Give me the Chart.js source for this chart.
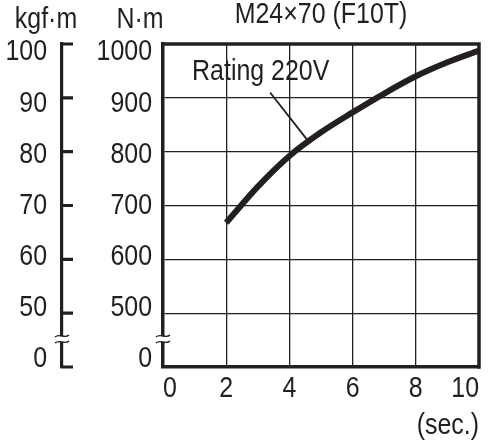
<!DOCTYPE html>
<html><head><meta charset="utf-8">
<script src="https://cdn.jsdelivr.net/npm/chart.js@4.4.1/dist/chart.umd.min.js"></script>
<style>html,body{margin:0;padding:0;background:#fff}#wrap{width:497px;height:447px;position:relative}</style>
</head><body><div id="wrap"><canvas id="c"></canvas></div>
<script>
// ---- data ----
const titleText = 'M24×70 (F10T)';
const seriesName = 'Rating 220V';
const unitNm = 'N·m';
const unitKgf = 'kgf·m';
const unitX = '(sec.)';
const timeSec = [2, 3, 4, 5, 6, 7, 8, 9, 10];
const torqueNm = [668, 735, 792, 836, 873, 908, 940, 966, 988];
const xTicks = [0, 2, 4, 6, 8, 10];
const nmTicks = [400, 500, 600, 700, 800, 900, 1000];      // 400 sits at the axis break, labelled 0
const nmTickLabels = ['0', '500', '600', '700', '800', '900', '1000'];
const kgfTicks = [40, 50, 60, 70, 80, 90, 100];             // 40 sits at the axis break, labelled 0
const kgfTickLabels = ['0', '50', '60', '70', '80', '90', '100'];
const leaderX = [3.39, 4.59];
const leaderY = [910, 820];
const labelAt = [0.92, 933];
const breakNm = 452;

// ---- style ----
const INK = '#231f20';
const FF = "'Liberation Sans', Arial, sans-serif";
const FS = 29;
const FONT = {family: FF, size: FS};
const CONDENSE = 0.86;   // condensed-type look (horizontal text scale)

const setTicks = arr => s => { s.ticks = arr.map(v => ({value: v})); };

const condensed = {
  id: 'condensed',
  beforeInit(chart) {
    const ctx = chart.ctx;
    const orig = ctx.fillText.bind(ctx);
    ctx.fillText = function (text, x, y, maxWidth) {
      this.save();
      this.translate(x, y);
      this.scale(CONDENSE, 1);
      orig(text, 0, 0);
      this.restore();
    };
  }
};

const decor = {
  id: 'decor',
  afterDatasetsDraw(chart) {
    const {ctx, chartArea: a} = chart;
    ctx.save();
    ctx.strokeStyle = INK;
    ctx.lineWidth = 3.5;
    ctx.lineCap = 'butt';
    ctx.beginPath();
    ctx.moveTo(a.left - 1.75, a.top);
    ctx.lineTo(a.right + 1.75, a.top);
    ctx.moveTo(a.right, a.top);
    ctx.lineTo(a.right, a.bottom + 1.75);
    ctx.stroke();
    ctx.restore();
  },
  afterDraw(chart) {
    const {ctx, chartArea: a, scales} = chart;
    const y = scales.y, x = scales.x, k = scales.k;
    const kx = k.right;
    ctx.save();
    // kgf axis inward ticks
    ctx.strokeStyle = INK;
    ctx.lineWidth = 3.2;
    ctx.beginPath();
    kgfTicks.forEach(t => {
      const py = y.getPixelForValue(t * 10);
      ctx.moveTo(kx - 1.5, py);
      ctx.lineTo(kx + 11, py);
    });
    ctx.stroke();
    // axis breaks
    const py = y.getPixelForValue(breakNm);
    [kx, a.left].forEach(ax => {
      ctx.fillStyle = '#fff';
      ctx.fillRect(ax - 4, py - 3, 8, 6);
      ctx.strokeStyle = INK;
      ctx.lineWidth = 1.3;
      [-3, 3].forEach(d => {
        const yy = py + d;
        ctx.beginPath();
        ctx.moveTo(ax - 7, yy + 1);
        ctx.bezierCurveTo(ax - 3, yy - 3, ax + 3, yy + 3, ax + 7, yy - 1);
        ctx.stroke();
      });
    });
    // texts
    ctx.fillStyle = INK;
    ctx.font = `${FS}px ${FF}`;
    ctx.textBaseline = 'alphabetic';
    ctx.textAlign = 'center';
    ctx.fillText(unitKgf, kx - 16, a.top - 16);
    ctx.fillText(unitNm, a.left - 23, a.top - 16);
    ctx.fillText(titleText, (a.left + a.right) / 2, a.top - 21);
    ctx.textAlign = 'left';
    ctx.fillText(seriesName, x.getPixelForValue(labelAt[0]), y.getPixelForValue(labelAt[1]));
    ctx.restore();
  }
};

new Chart(document.getElementById('c'), {
  type: 'line',
  data: {
    datasets: [
      {
        label: seriesName,
        data: timeSec.map((t, i) => ({x: t, y: torqueNm[i]})),
        borderColor: INK,
        borderWidth: 6,
        pointRadius: 0,
        cubicInterpolationMode: 'monotone',
        borderCapStyle: 'butt',
        xAxisID: 'x', yAxisID: 'y'
      },
      {
        label: 'leader',
        data: leaderX.map((t, i) => ({x: t, y: leaderY[i]})),
        borderColor: INK,
        borderWidth: 1.8,
        pointRadius: 0,
        tension: 0,
        xAxisID: 'x', yAxisID: 'y'
      }
    ]
  },
  options: {
    responsive: true,
    maintainAspectRatio: false,
    animation: false,
    layout: {padding: {top: 44, right: 18, left: 0, bottom: 0}},
    plugins: {legend: {display: false}, tooltip: {enabled: false}, title: {display: false}},
    scales: {
      x: {
        type: 'linear', min: 0, max: 10,
        afterBuildTicks: setTicks(xTicks),
        ticks: {align: 'inner', padding: 5, font: FONT, color: INK, maxRotation: 0, autoSkip: false},
        grid: {color: INK, lineWidth: 1.3, drawTicks: false},
        border: {color: INK, width: 3.5},
        title: {display: true, text: unitX, align: 'end', font: FONT, color: INK, padding: {top: 0, bottom: 4}},
        afterFit: s => { s.height = 80; }
      },
      y: {
        type: 'linear', position: 'left', weight: 0, min: 400, max: 1000,
        afterBuildTicks: setTicks(nmTicks),
        ticks: {display: false},
        grid: {color: INK, lineWidth: 1.3, drawTicks: false},
        border: {color: INK, width: 3.5},
        afterFit: s => { s.width = 0; }
      },
      yL: {
        type: 'linear', position: 'left', weight: 1, min: 384.3, max: 1016.6,
        afterBuildTicks: setTicks(nmTicks),
        ticks: {callback: (v, i) => nmTickLabels[i], padding: 11, font: FONT, color: INK, autoSkip: false},
        grid: {display: false, drawTicks: false},
        border: {display: false},
        afterFit: s => { s.width = 101; }
      },
      k: {
        type: 'linear', position: 'left', weight: 2, min: 38.43, max: 101.66,
        afterBuildTicks: setTicks(kgfTicks),
        ticks: {callback: (v, i) => kgfTickLabels[i], padding: 15, font: FONT, color: INK, autoSkip: false},
        grid: {display: false, drawTicks: false},
        border: {display: true, color: INK, width: 3.2},
        afterFit: s => { s.width = 62; }
      }
    }
  },
  plugins: [condensed, decor]
});
</script>
</body></html>
